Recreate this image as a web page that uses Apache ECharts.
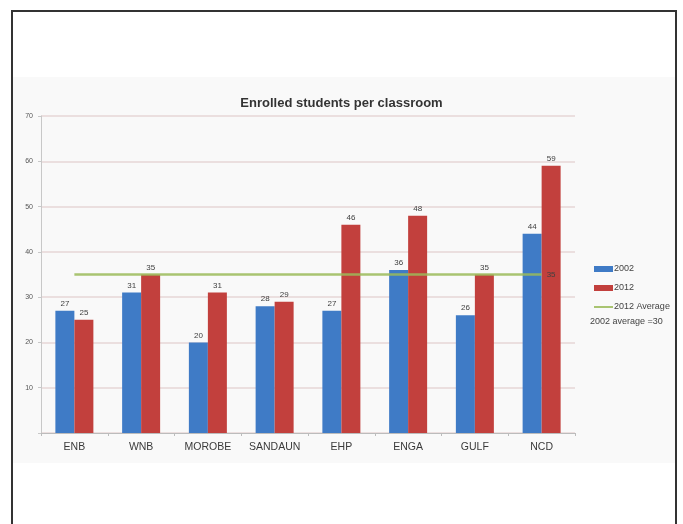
<!DOCTYPE html>
<html>
<head>
<meta charset="utf-8">
<script src="https://cdn.jsdelivr.net/npm/echarts@6/dist/echarts.min.js"></script>
<style>
  html, body { margin: 0; padding: 0; background: #ffffff; }
  #chart { width: 683px; height: 524px; }
</style>
</head>
<body>
<div id="chart"></div>
<script>
const categories = ['ENB', 'WNB', 'MOROBE', 'SANDAUN', 'EHP', 'ENGA', 'GULF', 'NCD'];
const values2002 = [27, 31, 20, 28, 27, 36, 26, 44];
const values2012 = [25, 35, 31, 29, 46, 48, 35, 59];
const average2012 = [35, 35, 35, 35, 35, 35, 35, 35];
const average2012Label = '35';
const note2002 = '2002 average =30';
const yTicks = { min: 0, max: 70, interval: 10 };
const titleText = 'Enrolled students per classroom';

const chart = echarts.init(document.getElementById('chart'), null, { renderer: 'canvas' });

const barLabel = {
  show: true, position: 'top', distance: 3,
  fontFamily: 'Liberation Sans', fontSize: 8, color: '#404040'
};

chart.setOption({
  animation: false,
  backgroundColor: '#ffffff',
  title: {
    text: titleText, left: 'center', top: 92,
    textStyle: { fontFamily: 'Liberation Sans', fontSize: 13, fontWeight: 'bold', color: '#333333' }
  },
  legend: {
    orient: 'vertical', left: 588, top: 259,
    itemWidth: 19, itemHeight: 6, itemGap: 9,
    textStyle: { fontFamily: 'Liberation Sans', fontSize: 9, color: '#444444', lineHeight: 10, padding: [0, 0, 0, -4] },
    data: [
      { name: '2002', icon: 'rect' },
      { name: '2012', icon: 'rect' },
      { name: '2012 Average', itemStyle: { opacity: 0 } }
    ]
  },
  grid: { left: 41, right: 108, top: 116, bottom: 91 },
  xAxis: {
    type: 'category', data: categories,
    axisLine: { lineStyle: { color: '#bcbcbc' } },
    axisTick: { show: true, length: 3, lineStyle: { color: '#bcbcbc' } },
    axisLabel: { interval: 0, margin: 9, fontFamily: 'Liberation Sans', fontSize: 10.5, color: '#3a3a3a' }
  },
  yAxis: {
    type: 'value', min: yTicks.min, max: yTicks.max, interval: yTicks.interval,
    axisLine: { show: true, lineStyle: { color: '#c8c8c8' } },
    axisTick: { show: true, length: 3, lineStyle: { color: '#c8c8c8' } },
    splitLine: { lineStyle: { color: '#e6d6d6', width: 1.5 } },
    axisLabel: {
      margin: 8, fontFamily: 'Liberation Sans', fontSize: 7, color: '#555555',
      formatter: v => (v === 0 ? '' : String(v))
    }
  },
  series: [
    {
      name: '2002', type: 'bar', data: values2002,
      barWidth: 19, barGap: '0%',
      itemStyle: { color: '#3f7bc6' },
      label: barLabel, z: 2
    },
    {
      name: '2012', type: 'bar', data: values2012,
      barWidth: 19,
      itemStyle: { color: '#c2403d' },
      label: barLabel, z: 2
    },
    {
      name: '2012 Average', type: 'line', data: average2012,
      symbol: 'none',
      lineStyle: { color: '#9bbb59', width: 2.5, opacity: 0.85 },
      itemStyle: { color: '#9bbb59' },
      endLabel: {
        show: true, formatter: average2012Label, distance: 5,
        fontFamily: 'Liberation Sans', fontSize: 8, color: '#404040'
      },
      z: 5
    }
  ],
  graphic: [
    {
      type: 'rect', z: -10, silent: true,
      shape: { x: 13, y: 77, width: 663, height: 386 },
      style: { fill: '#f9f9f9' }
    },
    {
      type: 'text', left: 590, top: 317, z: 10,
      style: { text: note2002, fontFamily: 'Liberation Sans', fontSize: 9, fill: '#444444' }
    },
    {
      type: 'rect', z: 20, silent: true,
      shape: { x: 677, y: 0, width: 10, height: 524 },
      style: { fill: '#ffffff' }
    },
    {
      type: 'rect', z: 30, silent: true,
      shape: { x: 12, y: 11, width: 664, height: 530 },
      style: { fill: 'none', stroke: '#333333', lineWidth: 2 }
    }
  ]
});
</script>
</body>
</html>
